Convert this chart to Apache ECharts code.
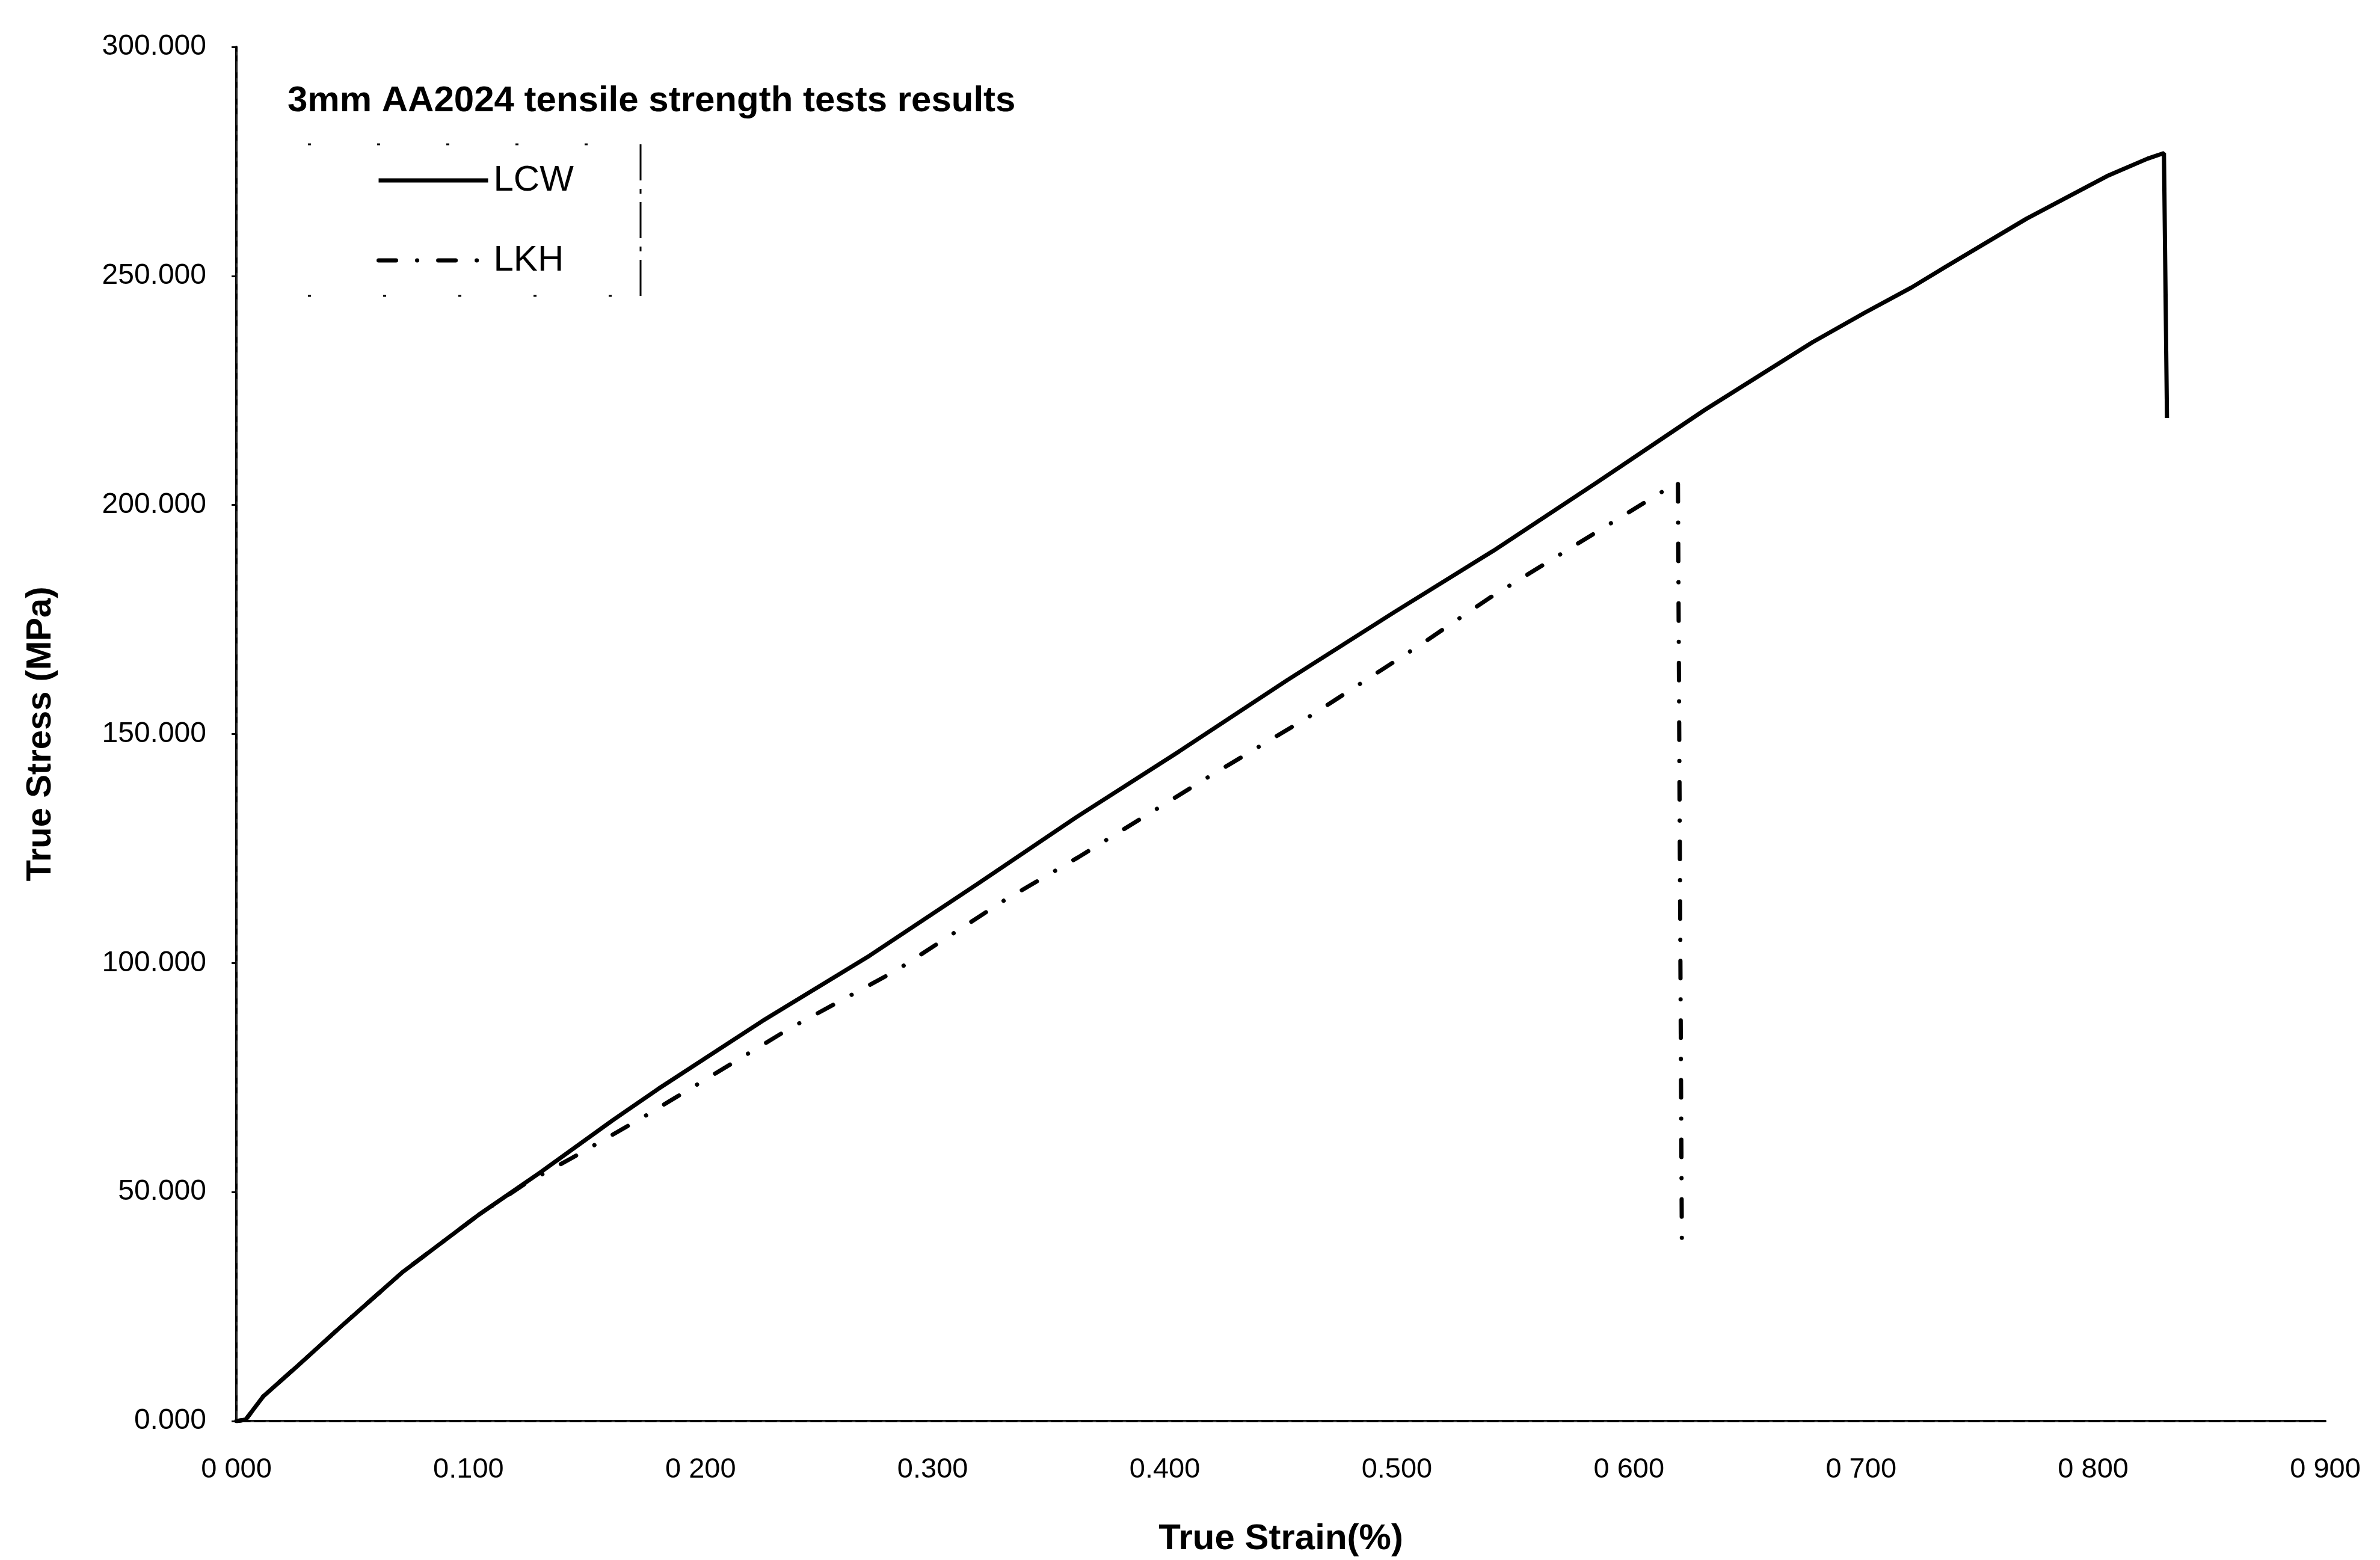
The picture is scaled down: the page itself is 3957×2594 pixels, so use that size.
<!DOCTYPE html>
<html>
<head>
<meta charset="utf-8">
<title>3mm AA2024 tensile strength tests results</title>
<script src="https://cdn.jsdelivr.net/npm/echarts@6/dist/echarts.min.js"></script>
<style>
  html, body { margin: 0; padding: 0; background: #ffffff; }
  #chart { width: 3957px; height: 2594px; }
</style>
</head>
<body>
<div id="chart"></div>
<script>
// True strain / true stress readings for the two tensile specimens
const strainLCW = [0, 0.004, 0.0116, 0.0267, 0.0463, 0.0718, 0.1043, 0.131, 0.1622, 0.1817,
  0.2265, 0.2728, 0.3191, 0.3618, 0.4062, 0.4526, 0.4989, 0.5416, 0.5864, 0.6328,
  0.679, 0.7017, 0.7218, 0.7365, 0.7713, 0.806, 0.8234, 0.8292, 0.8305, 0.8318];
const stressLCW = [0, 0.3, 5.4, 12.2, 21.2, 32.6, 45.0, 54.3, 65.7, 72.5,
  87.3, 101.6, 117.2, 131.8, 146.2, 161.7, 176.6, 190.0, 205.0, 220.8,
  235.5, 242.0, 247.5, 252.0, 262.5, 271.8, 275.6, 276.6, 276.8, 219.0];

const strainLKH = [0, 0.004, 0.0116, 0.0267, 0.0463, 0.0718, 0.1043, 0.125, 0.1448, 0.1761,
  0.238, 0.2844, 0.3306, 0.3628, 0.4178, 0.4642, 0.5105, 0.5396, 0.5771, 0.6211, 0.6228];
const stressLKH = [0, 0.3, 5.4, 12.2, 21.2, 32.6, 45.0, 52.0, 57.5, 66.6,
  85.6, 98.4, 113.6, 123.1, 140.3, 154.4, 169.6, 179.6, 191.3, 205.0, 37.4];

const seriesNames = ['LCW', 'LKH'];
const xTickLabels = ['0 000', '0.100', '0 200', '0.300', '0.400', '0.500', '0 600', '0 700', '0 800', '0 900'];
const yTickLabels = ['0.000', '50.000', '100.000', '150.000', '200.000', '250.000', '300.000'];

const chartTitle = '3mm AA2024 tensile strength tests results';
const xAxisTitle = 'True Strain(%)';
const yAxisTitle = 'True Stress (MPa)';

function pairs(xs, ys) {
  return xs.map((x, i) => [x, ys[i]]);
}

const FONT = '"Liberation Sans", Arial, sans-serif';
const chart = echarts.init(document.getElementById('chart'), null, { renderer: 'canvas' });

const gridLeft = 393, gridRight = 91, gridTop = 78, gridBottom = 227;
const dashDot = [29, 35, 0.1, 35];

chart.setOption({
  backgroundColor: '#ffffff',
  animation: false,
  title: {
    text: chartTitle,
    left: 478,
    top: 138,
    padding: 0,
    textStyle: { fontFamily: FONT, fontWeight: 'bold', fontSize: 60, color: '#000' }
  },
  legend: {
    data: seriesNames,
    orient: 'vertical',
    left: 626,
    top: 270,
    padding: 0,
    itemWidth: 182,
    itemHeight: 24,
    itemGap: 73,
    itemStyle: { opacity: 0 },
    lineStyle: { width: 7 },
    textStyle: { fontFamily: FONT, fontSize: 60, color: '#000', padding: [0, 0, 0, 4] }
  },
  grid: { left: gridLeft, right: gridRight, top: gridTop, bottom: gridBottom, containLabel: false },
  xAxis: [{
    type: 'value',
    min: 0, max: 0.9, interval: 0.1,
    name: xAxisTitle,
    nameLocation: 'middle',
    nameGap: 166,
    nameTextStyle: { fontFamily: FONT, fontWeight: 'bold', fontSize: 60, color: '#000' },
    axisLine: { show: true, onZero: false, lineStyle: { color: '#000', width: 4 } },
    axisTick: { show: false },
    splitLine: { show: false },
    axisLabel: {
      margin: 58,
      fontFamily: FONT, fontSize: 47, color: '#000',
      formatter: v => xTickLabels[Math.round(v / 0.1)]
    }
  }, {
    type: 'value',
    position: 'top',
    min: 0, max: 0.9,
    axisLine: { show: true, lineStyle: { color: '#333', width: 3, type: [3, 22] } },
    axisTick: { show: false }, axisLabel: { show: false }, splitLine: { show: false }
  }],
  yAxis: [{
    type: 'value',
    min: 0, max: 300, interval: 50,
    name: yAxisTitle,
    nameLocation: 'middle',
    nameGap: 296,
    nameRotate: 90,
    nameTextStyle: { fontFamily: FONT, fontWeight: 'bold', fontSize: 58, color: '#000' },
    axisLine: { show: true, onZero: false, lineStyle: { color: '#000', width: 4 } },
    axisTick: { show: true, length: 8, lineStyle: { color: '#000', width: 3 } },
    splitLine: { show: false },
    axisLabel: {
      margin: 50,
      fontFamily: FONT, fontSize: 48, color: '#000',
      formatter: v => yTickLabels[Math.round(v / 50)]
    }
  }, {
    type: 'value',
    position: 'right',
    min: 0, max: 300,
    axisLine: { show: true, lineStyle: { color: '#222', width: 3, type: [16, 12, 4, 12] } },
    axisTick: { show: false }, axisLabel: { show: false }, splitLine: { show: false }
  }],
  graphic: [
    // thin broken frame around the legend
    { type: 'line', shape: { x1: 1065, y1: 240, x2: 1065, y2: 492 },
      style: { stroke: '#000', lineWidth: 3, lineDash: [60, 14, 8, 14] } },
    { type: 'line', shape: { x1: 512, y1: 240, x2: 1065, y2: 240 },
      style: { stroke: '#000', lineWidth: 3, lineDash: [5, 110] } },
    { type: 'line', shape: { x1: 512, y1: 492, x2: 1065, y2: 492 },
      style: { stroke: '#000', lineWidth: 3, lineDash: [5, 120] } }
  ],
  series: [
    {
      name: seriesNames[0],
      type: 'line',
      xAxisIndex: 0, yAxisIndex: 0,
      data: pairs(strainLCW, stressLCW),
      symbol: 'none',
      smooth: false,
      lineStyle: { color: '#000', width: 7, type: 'solid' },
      itemStyle: { color: '#000' },
      z: 3
    },
    {
      name: seriesNames[1],
      type: 'line',
      xAxisIndex: 0, yAxisIndex: 0,
      data: pairs(strainLKH, stressLKH),
      symbol: 'none',
      smooth: false,
      lineStyle: { color: '#000', width: 7, type: dashDot, cap: 'round' },
      itemStyle: { color: '#000' },
      z: 2
    }
  ]
});
</script>
</body>
</html>
